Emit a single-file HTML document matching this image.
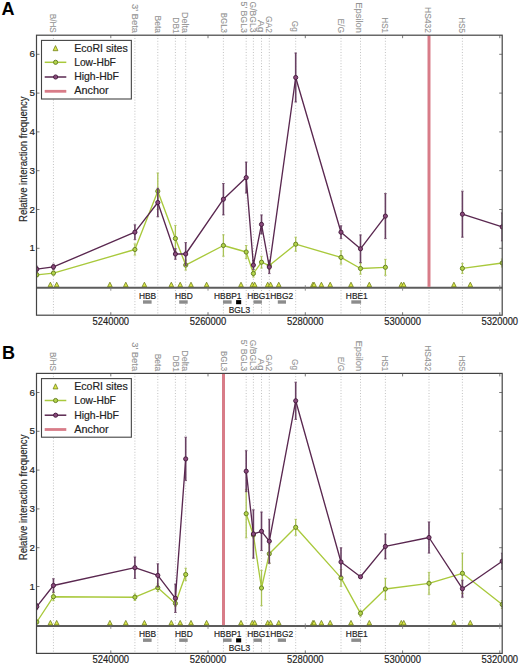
<!DOCTYPE html><html><head><meta charset="utf-8"><style>html,body{margin:0;padding:0;background:#fff;}svg{display:block;font-family:"Liberation Sans", sans-serif;}text{stroke-width:0.18px;}text.lb{stroke-width:0.08px;}</style></head><body>
<svg width="520" height="664" viewBox="0 0 520 664">
<rect width="520" height="664" fill="#fff"/>
<clipPath id="c0"><rect x="36.5" y="35.2" width="465.7" height="280"/></clipPath>
<line x1="53.45" y1="35.2" x2="53.45" y2="315.2" stroke="#bbbbbb" stroke-width="0.9" stroke-dasharray="1 1.8"/>
<line x1="134.9" y1="35.2" x2="134.9" y2="315.2" stroke="#bbbbbb" stroke-width="0.9" stroke-dasharray="1 1.8"/>
<line x1="157.8" y1="35.2" x2="157.8" y2="315.2" stroke="#bbbbbb" stroke-width="0.9" stroke-dasharray="1 1.8"/>
<line x1="175.4" y1="35.2" x2="175.4" y2="315.2" stroke="#bbbbbb" stroke-width="0.9" stroke-dasharray="1 1.8"/>
<line x1="185.7" y1="35.2" x2="185.7" y2="315.2" stroke="#bbbbbb" stroke-width="0.9" stroke-dasharray="1 1.8"/>
<line x1="223.4" y1="35.2" x2="223.4" y2="315.2" stroke="#bbbbbb" stroke-width="0.9" stroke-dasharray="1 1.8"/>
<line x1="246.2" y1="35.2" x2="246.2" y2="315.2" stroke="#bbbbbb" stroke-width="0.9" stroke-dasharray="1 1.8"/>
<line x1="253.4" y1="35.2" x2="253.4" y2="315.2" stroke="#bbbbbb" stroke-width="0.9" stroke-dasharray="1 1.8"/>
<line x1="261.5" y1="35.2" x2="261.5" y2="315.2" stroke="#bbbbbb" stroke-width="0.9" stroke-dasharray="1 1.8"/>
<line x1="269.3" y1="35.2" x2="269.3" y2="315.2" stroke="#bbbbbb" stroke-width="0.9" stroke-dasharray="1 1.8"/>
<line x1="295.7" y1="35.2" x2="295.7" y2="315.2" stroke="#bbbbbb" stroke-width="0.9" stroke-dasharray="1 1.8"/>
<line x1="341" y1="35.2" x2="341" y2="315.2" stroke="#bbbbbb" stroke-width="0.9" stroke-dasharray="1 1.8"/>
<line x1="360.5" y1="35.2" x2="360.5" y2="315.2" stroke="#bbbbbb" stroke-width="0.9" stroke-dasharray="1 1.8"/>
<line x1="385.4" y1="35.2" x2="385.4" y2="315.2" stroke="#bbbbbb" stroke-width="0.9" stroke-dasharray="1 1.8"/>
<line x1="429" y1="35.2" x2="429" y2="315.2" stroke="#bbbbbb" stroke-width="0.9" stroke-dasharray="1 1.8"/>
<line x1="462.4" y1="35.2" x2="462.4" y2="315.2" stroke="#bbbbbb" stroke-width="0.9" stroke-dasharray="1 1.8"/>
<text transform="translate(50.1 13.7) rotate(90)" text-anchor="start" class="lb" font-size="8.3" fill="#929292" stroke="#929292" textLength="19" lengthAdjust="spacingAndGlyphs">B/HS</text>
<text transform="translate(131.5 4) rotate(90)" text-anchor="start" class="lb" font-size="8.3" fill="#929292" stroke="#929292" textLength="29" lengthAdjust="spacingAndGlyphs">3&#8217; Beta</text>
<text transform="translate(154.8 15.5) rotate(90)" text-anchor="start" class="lb" font-size="8.3" fill="#929292" stroke="#929292" textLength="17.5" lengthAdjust="spacingAndGlyphs">Beta</text>
<text transform="translate(172.8 17.3) rotate(90)" text-anchor="start" class="lb" font-size="8.3" fill="#929292" stroke="#929292" textLength="16.4" lengthAdjust="spacingAndGlyphs">DB1</text>
<text transform="translate(182.3 12) rotate(90)" text-anchor="start" class="lb" font-size="8.3" fill="#929292" stroke="#929292" textLength="21" lengthAdjust="spacingAndGlyphs">Delta</text>
<text transform="translate(220.6 12.8) rotate(90)" text-anchor="start" class="lb" font-size="8.3" fill="#929292" stroke="#929292" textLength="20.2" lengthAdjust="spacingAndGlyphs">BGL3</text>
<text transform="translate(240.7 1.5) rotate(90)" text-anchor="start" class="lb" font-size="8.3" fill="#929292" stroke="#929292" textLength="31.5" lengthAdjust="spacingAndGlyphs">5&#8217; BGL3</text>
<text transform="translate(250 1.6) rotate(90)" text-anchor="start" class="lb" font-size="8.3" fill="#929292" stroke="#929292" textLength="30.8" lengthAdjust="spacingAndGlyphs">G/BGL3</text>
<text transform="translate(257.6 20) rotate(90)" text-anchor="start" class="lb" font-size="8.3" fill="#929292" stroke="#929292" textLength="12.4" lengthAdjust="spacingAndGlyphs">Ag</text>
<text transform="translate(266 16) rotate(90)" text-anchor="start" class="lb" font-size="8.3" fill="#929292" stroke="#929292" textLength="17" lengthAdjust="spacingAndGlyphs">GA2</text>
<text transform="translate(291.6 20.8) rotate(90)" text-anchor="start" class="lb" font-size="8.3" fill="#929292" stroke="#929292" textLength="11" lengthAdjust="spacingAndGlyphs">Gg</text>
<text transform="translate(337.5 18.5) rotate(90)" text-anchor="start" class="lb" font-size="8.3" fill="#929292" stroke="#929292" textLength="14.5" lengthAdjust="spacingAndGlyphs">E/G</text>
<text transform="translate(355.7 2.3) rotate(90)" text-anchor="start" class="lb" font-size="8.3" fill="#929292" stroke="#929292" textLength="30.7" lengthAdjust="spacingAndGlyphs">Epsilon</text>
<text transform="translate(382.1 17.3) rotate(90)" text-anchor="start" class="lb" font-size="8.3" fill="#929292" stroke="#929292" textLength="15.7" lengthAdjust="spacingAndGlyphs">HS1</text>
<text transform="translate(425.4 7) rotate(90)" text-anchor="start" class="lb" font-size="8.3" fill="#929292" stroke="#929292" textLength="26" lengthAdjust="spacingAndGlyphs">HS432</text>
<text transform="translate(458.9 17.3) rotate(90)" text-anchor="start" class="lb" font-size="8.3" fill="#929292" stroke="#929292" textLength="15.7" lengthAdjust="spacingAndGlyphs">HS5</text>
<line x1="36.5" y1="287.7" x2="502.2" y2="287.7" stroke="#5c5c5c" stroke-width="2"/>
<line x1="110.8" y1="285.2" x2="110.8" y2="290.7" stroke="#777" stroke-width="0.8"/>
<line x1="208" y1="285.2" x2="208" y2="290.7" stroke="#777" stroke-width="0.8"/>
<line x1="305.3" y1="285.2" x2="305.3" y2="290.7" stroke="#777" stroke-width="0.8"/>
<line x1="402.6" y1="285.2" x2="402.6" y2="290.7" stroke="#777" stroke-width="0.8"/>
<line x1="499.8" y1="285.2" x2="499.8" y2="290.7" stroke="#777" stroke-width="0.8"/>
<line x1="429" y1="35.2" x2="429" y2="286.9" stroke="#d87c88" stroke-width="3"/>
<path d="M48.1 286.7L52.7 286.7L50.4 282.2Z" fill="#dde84a" stroke="#6f7f1c" stroke-width="0.8"/>
<path d="M54.4 286.7L59 286.7L56.7 282.2Z" fill="#dde84a" stroke="#6f7f1c" stroke-width="0.8"/>
<path d="M107.6 286.7L112.2 286.7L109.9 282.2Z" fill="#dde84a" stroke="#6f7f1c" stroke-width="0.8"/>
<path d="M123.5 286.7L128.1 286.7L125.8 282.2Z" fill="#dde84a" stroke="#6f7f1c" stroke-width="0.8"/>
<path d="M142.1 286.7L146.7 286.7L144.4 282.2Z" fill="#dde84a" stroke="#6f7f1c" stroke-width="0.8"/>
<path d="M169 286.7L173.6 286.7L171.3 282.2Z" fill="#dde84a" stroke="#6f7f1c" stroke-width="0.8"/>
<path d="M177.9 286.7L182.5 286.7L180.2 282.2Z" fill="#dde84a" stroke="#6f7f1c" stroke-width="0.8"/>
<path d="M188.7 286.7L193.3 286.7L191 282.2Z" fill="#dde84a" stroke="#6f7f1c" stroke-width="0.8"/>
<path d="M204.3 286.7L208.9 286.7L206.6 282.2Z" fill="#dde84a" stroke="#6f7f1c" stroke-width="0.8"/>
<path d="M238.7 286.7L243.3 286.7L241 282.2Z" fill="#dde84a" stroke="#6f7f1c" stroke-width="0.8"/>
<path d="M250 286.7L254.6 286.7L252.3 282.2Z" fill="#dde84a" stroke="#6f7f1c" stroke-width="0.8"/>
<path d="M252.4 286.7L257 286.7L254.7 282.2Z" fill="#dde84a" stroke="#6f7f1c" stroke-width="0.8"/>
<path d="M265.4 286.7L270 286.7L267.7 282.2Z" fill="#dde84a" stroke="#6f7f1c" stroke-width="0.8"/>
<path d="M268.3 286.7L272.9 286.7L270.6 282.2Z" fill="#dde84a" stroke="#6f7f1c" stroke-width="0.8"/>
<path d="M276.45 286.7L281.05 286.7L278.75 282.2Z" fill="#dde84a" stroke="#6f7f1c" stroke-width="0.8"/>
<path d="M310.6 286.7L315.2 286.7L312.9 282.2Z" fill="#dde84a" stroke="#6f7f1c" stroke-width="0.8"/>
<path d="M311.8 286.7L316.4 286.7L314.1 282.2Z" fill="#dde84a" stroke="#6f7f1c" stroke-width="0.8"/>
<path d="M319.1 286.7L323.7 286.7L321.4 282.2Z" fill="#dde84a" stroke="#6f7f1c" stroke-width="0.8"/>
<path d="M327.9 286.7L332.5 286.7L330.2 282.2Z" fill="#dde84a" stroke="#6f7f1c" stroke-width="0.8"/>
<path d="M348.7 286.7L353.3 286.7L351 282.2Z" fill="#dde84a" stroke="#6f7f1c" stroke-width="0.8"/>
<path d="M367 286.7L371.6 286.7L369.3 282.2Z" fill="#dde84a" stroke="#6f7f1c" stroke-width="0.8"/>
<path d="M399 286.7L403.6 286.7L401.3 282.2Z" fill="#dde84a" stroke="#6f7f1c" stroke-width="0.8"/>
<path d="M401.45 286.7L406.05 286.7L403.75 282.2Z" fill="#dde84a" stroke="#6f7f1c" stroke-width="0.8"/>
<path d="M451.6 286.7L456.2 286.7L453.9 282.2Z" fill="#dde84a" stroke="#6f7f1c" stroke-width="0.8"/>
<path d="M468 286.7L472.6 286.7L470.3 282.2Z" fill="#dde84a" stroke="#6f7f1c" stroke-width="0.8"/>
<g clip-path="url(#c0)">
<line x1="36.8" y1="272.8" x2="36.8" y2="276.8" stroke="#a9c255" stroke-width="1.3"/>
<line x1="35.5" y1="272.8" x2="38.1" y2="272.8" stroke="#a9c255" stroke-width="0.8"/>
<line x1="35.5" y1="276.8" x2="38.1" y2="276.8" stroke="#a9c255" stroke-width="0.8"/>
<line x1="53.45" y1="271.1" x2="53.45" y2="275.1" stroke="#a9c255" stroke-width="1.3"/>
<line x1="52.15" y1="271.1" x2="54.75" y2="271.1" stroke="#a9c255" stroke-width="0.8"/>
<line x1="52.15" y1="275.1" x2="54.75" y2="275.1" stroke="#a9c255" stroke-width="0.8"/>
<line x1="134.9" y1="243.9" x2="134.9" y2="255.1" stroke="#a9c255" stroke-width="1.3"/>
<line x1="133.6" y1="243.9" x2="136.2" y2="243.9" stroke="#a9c255" stroke-width="0.8"/>
<line x1="133.6" y1="255.1" x2="136.2" y2="255.1" stroke="#a9c255" stroke-width="0.8"/>
<line x1="157.8" y1="173" x2="157.8" y2="209.4" stroke="#a9c255" stroke-width="1.3"/>
<line x1="156.5" y1="173" x2="159.1" y2="173" stroke="#a9c255" stroke-width="0.8"/>
<line x1="156.5" y1="209.4" x2="159.1" y2="209.4" stroke="#a9c255" stroke-width="0.8"/>
<line x1="175.4" y1="225.4" x2="175.4" y2="251.6" stroke="#a9c255" stroke-width="1.3"/>
<line x1="174.1" y1="225.4" x2="176.7" y2="225.4" stroke="#a9c255" stroke-width="0.8"/>
<line x1="174.1" y1="251.6" x2="176.7" y2="251.6" stroke="#a9c255" stroke-width="0.8"/>
<line x1="185.7" y1="260.1" x2="185.7" y2="270.1" stroke="#a9c255" stroke-width="1.3"/>
<line x1="184.4" y1="260.1" x2="187" y2="260.1" stroke="#a9c255" stroke-width="0.8"/>
<line x1="184.4" y1="270.1" x2="187" y2="270.1" stroke="#a9c255" stroke-width="0.8"/>
<line x1="223.4" y1="234.8" x2="223.4" y2="256.2" stroke="#a9c255" stroke-width="1.3"/>
<line x1="222.1" y1="234.8" x2="224.7" y2="234.8" stroke="#a9c255" stroke-width="0.8"/>
<line x1="222.1" y1="256.2" x2="224.7" y2="256.2" stroke="#a9c255" stroke-width="0.8"/>
<line x1="246.2" y1="245.5" x2="246.2" y2="258.5" stroke="#a9c255" stroke-width="1.3"/>
<line x1="244.9" y1="245.5" x2="247.5" y2="245.5" stroke="#a9c255" stroke-width="0.8"/>
<line x1="244.9" y1="258.5" x2="247.5" y2="258.5" stroke="#a9c255" stroke-width="0.8"/>
<line x1="253.4" y1="269.9" x2="253.4" y2="277.1" stroke="#a9c255" stroke-width="1.3"/>
<line x1="252.1" y1="269.9" x2="254.7" y2="269.9" stroke="#a9c255" stroke-width="0.8"/>
<line x1="252.1" y1="277.1" x2="254.7" y2="277.1" stroke="#a9c255" stroke-width="0.8"/>
<line x1="261.5" y1="256.3" x2="261.5" y2="268.1" stroke="#a9c255" stroke-width="1.3"/>
<line x1="260.2" y1="256.3" x2="262.8" y2="256.3" stroke="#a9c255" stroke-width="0.8"/>
<line x1="260.2" y1="268.1" x2="262.8" y2="268.1" stroke="#a9c255" stroke-width="0.8"/>
<line x1="269.3" y1="261.6" x2="269.3" y2="269.6" stroke="#a9c255" stroke-width="1.3"/>
<line x1="268" y1="261.6" x2="270.6" y2="261.6" stroke="#a9c255" stroke-width="0.8"/>
<line x1="268" y1="269.6" x2="270.6" y2="269.6" stroke="#a9c255" stroke-width="0.8"/>
<line x1="295.7" y1="237.2" x2="295.7" y2="251.2" stroke="#a9c255" stroke-width="1.3"/>
<line x1="294.4" y1="237.2" x2="297" y2="237.2" stroke="#a9c255" stroke-width="0.8"/>
<line x1="294.4" y1="251.2" x2="297" y2="251.2" stroke="#a9c255" stroke-width="0.8"/>
<line x1="341" y1="250.7" x2="341" y2="264.1" stroke="#a9c255" stroke-width="1.3"/>
<line x1="339.7" y1="250.7" x2="342.3" y2="250.7" stroke="#a9c255" stroke-width="0.8"/>
<line x1="339.7" y1="264.1" x2="342.3" y2="264.1" stroke="#a9c255" stroke-width="0.8"/>
<line x1="360.5" y1="262.8" x2="360.5" y2="274.2" stroke="#a9c255" stroke-width="1.3"/>
<line x1="359.2" y1="262.8" x2="361.8" y2="262.8" stroke="#a9c255" stroke-width="0.8"/>
<line x1="359.2" y1="274.2" x2="361.8" y2="274.2" stroke="#a9c255" stroke-width="0.8"/>
<line x1="385.4" y1="259.3" x2="385.4" y2="275.3" stroke="#a9c255" stroke-width="1.3"/>
<line x1="384.1" y1="259.3" x2="386.7" y2="259.3" stroke="#a9c255" stroke-width="0.8"/>
<line x1="384.1" y1="275.3" x2="386.7" y2="275.3" stroke="#a9c255" stroke-width="0.8"/>
<line x1="462.4" y1="263.4" x2="462.4" y2="273.4" stroke="#a9c255" stroke-width="1.3"/>
<line x1="461.1" y1="263.4" x2="463.7" y2="263.4" stroke="#a9c255" stroke-width="0.8"/>
<line x1="461.1" y1="273.4" x2="463.7" y2="273.4" stroke="#a9c255" stroke-width="0.8"/>
<line x1="502.2" y1="259" x2="502.2" y2="267" stroke="#a9c255" stroke-width="1.3"/>
<line x1="500.9" y1="259" x2="503.5" y2="259" stroke="#a9c255" stroke-width="0.8"/>
<line x1="500.9" y1="267" x2="503.5" y2="267" stroke="#a9c255" stroke-width="0.8"/>
<polyline points="36.8,274.8 53.45,273.1 134.9,249.5 157.8,191.2 175.4,238.5 185.7,265.1 223.4,245.5 246.2,252 253.4,273.5 261.5,262.2 269.3,265.6 295.7,244.2 341,257.4 360.5,268.5 385.4,267.3" fill="none" stroke="#a9c93c" stroke-width="1.35" stroke-linejoin="round"/>
<polyline points="462.4,268.4 502.2,263" fill="none" stroke="#a9c93c" stroke-width="1.35" stroke-linejoin="round"/>
<circle cx="36.8" cy="274.8" r="2.1" fill="#b2d44a" stroke="#60781e" stroke-width="0.9"/>
<circle cx="53.45" cy="273.1" r="2.1" fill="#b2d44a" stroke="#60781e" stroke-width="0.9"/>
<circle cx="134.9" cy="249.5" r="2.1" fill="#b2d44a" stroke="#60781e" stroke-width="0.9"/>
<circle cx="157.8" cy="191.2" r="2.1" fill="#b2d44a" stroke="#60781e" stroke-width="0.9"/>
<circle cx="175.4" cy="238.5" r="2.1" fill="#b2d44a" stroke="#60781e" stroke-width="0.9"/>
<circle cx="185.7" cy="265.1" r="2.1" fill="#b2d44a" stroke="#60781e" stroke-width="0.9"/>
<circle cx="223.4" cy="245.5" r="2.1" fill="#b2d44a" stroke="#60781e" stroke-width="0.9"/>
<circle cx="246.2" cy="252" r="2.1" fill="#b2d44a" stroke="#60781e" stroke-width="0.9"/>
<circle cx="253.4" cy="273.5" r="2.1" fill="#b2d44a" stroke="#60781e" stroke-width="0.9"/>
<circle cx="261.5" cy="262.2" r="2.1" fill="#b2d44a" stroke="#60781e" stroke-width="0.9"/>
<circle cx="269.3" cy="265.6" r="2.1" fill="#b2d44a" stroke="#60781e" stroke-width="0.9"/>
<circle cx="295.7" cy="244.2" r="2.1" fill="#b2d44a" stroke="#60781e" stroke-width="0.9"/>
<circle cx="341" cy="257.4" r="2.1" fill="#b2d44a" stroke="#60781e" stroke-width="0.9"/>
<circle cx="360.5" cy="268.5" r="2.1" fill="#b2d44a" stroke="#60781e" stroke-width="0.9"/>
<circle cx="385.4" cy="267.3" r="2.1" fill="#b2d44a" stroke="#60781e" stroke-width="0.9"/>
<circle cx="462.4" cy="268.4" r="2.1" fill="#b2d44a" stroke="#60781e" stroke-width="0.9"/>
<circle cx="502.2" cy="263" r="2.1" fill="#b2d44a" stroke="#60781e" stroke-width="0.9"/>
</g>
<g clip-path="url(#c0)">
<line x1="36.8" y1="266.2" x2="36.8" y2="272.2" stroke="#684062" stroke-width="1.6"/>
<line x1="35.5" y1="266.2" x2="38.1" y2="266.2" stroke="#684062" stroke-width="0.8"/>
<line x1="35.5" y1="272.2" x2="38.1" y2="272.2" stroke="#684062" stroke-width="0.8"/>
<line x1="53.45" y1="264.2" x2="53.45" y2="269.6" stroke="#684062" stroke-width="1.6"/>
<line x1="52.15" y1="264.2" x2="54.75" y2="264.2" stroke="#684062" stroke-width="0.8"/>
<line x1="52.15" y1="269.6" x2="54.75" y2="269.6" stroke="#684062" stroke-width="0.8"/>
<line x1="134.9" y1="224.8" x2="134.9" y2="239.6" stroke="#684062" stroke-width="1.6"/>
<line x1="133.6" y1="224.8" x2="136.2" y2="224.8" stroke="#684062" stroke-width="0.8"/>
<line x1="133.6" y1="239.6" x2="136.2" y2="239.6" stroke="#684062" stroke-width="0.8"/>
<line x1="157.8" y1="188.3" x2="157.8" y2="216.7" stroke="#684062" stroke-width="1.6"/>
<line x1="156.5" y1="188.3" x2="159.1" y2="188.3" stroke="#684062" stroke-width="0.8"/>
<line x1="156.5" y1="216.7" x2="159.1" y2="216.7" stroke="#684062" stroke-width="0.8"/>
<line x1="175.4" y1="248.7" x2="175.4" y2="259.3" stroke="#684062" stroke-width="1.6"/>
<line x1="174.1" y1="248.7" x2="176.7" y2="248.7" stroke="#684062" stroke-width="0.8"/>
<line x1="174.1" y1="259.3" x2="176.7" y2="259.3" stroke="#684062" stroke-width="0.8"/>
<line x1="185.7" y1="242.6" x2="185.7" y2="265.4" stroke="#684062" stroke-width="1.6"/>
<line x1="184.4" y1="242.6" x2="187" y2="242.6" stroke="#684062" stroke-width="0.8"/>
<line x1="184.4" y1="265.4" x2="187" y2="265.4" stroke="#684062" stroke-width="0.8"/>
<line x1="223.4" y1="183.5" x2="223.4" y2="214.9" stroke="#684062" stroke-width="1.6"/>
<line x1="222.1" y1="183.5" x2="224.7" y2="183.5" stroke="#684062" stroke-width="0.8"/>
<line x1="222.1" y1="214.9" x2="224.7" y2="214.9" stroke="#684062" stroke-width="0.8"/>
<line x1="246.2" y1="162.1" x2="246.2" y2="193.1" stroke="#684062" stroke-width="1.6"/>
<line x1="244.9" y1="162.1" x2="247.5" y2="162.1" stroke="#684062" stroke-width="0.8"/>
<line x1="244.9" y1="193.1" x2="247.5" y2="193.1" stroke="#684062" stroke-width="0.8"/>
<line x1="253.4" y1="260.6" x2="253.4" y2="269.6" stroke="#684062" stroke-width="1.6"/>
<line x1="252.1" y1="260.6" x2="254.7" y2="260.6" stroke="#684062" stroke-width="0.8"/>
<line x1="252.1" y1="269.6" x2="254.7" y2="269.6" stroke="#684062" stroke-width="0.8"/>
<line x1="261.5" y1="214.9" x2="261.5" y2="233.9" stroke="#684062" stroke-width="1.6"/>
<line x1="260.2" y1="214.9" x2="262.8" y2="214.9" stroke="#684062" stroke-width="0.8"/>
<line x1="260.2" y1="233.9" x2="262.8" y2="233.9" stroke="#684062" stroke-width="0.8"/>
<line x1="269.3" y1="260.4" x2="269.3" y2="273.6" stroke="#684062" stroke-width="1.6"/>
<line x1="268" y1="260.4" x2="270.6" y2="260.4" stroke="#684062" stroke-width="0.8"/>
<line x1="268" y1="273.6" x2="270.6" y2="273.6" stroke="#684062" stroke-width="0.8"/>
<line x1="295.7" y1="53" x2="295.7" y2="102" stroke="#684062" stroke-width="1.6"/>
<line x1="294.4" y1="53" x2="297" y2="53" stroke="#684062" stroke-width="0.8"/>
<line x1="294.4" y1="102" x2="297" y2="102" stroke="#684062" stroke-width="0.8"/>
<line x1="341" y1="225.8" x2="341" y2="238.6" stroke="#684062" stroke-width="1.6"/>
<line x1="339.7" y1="225.8" x2="342.3" y2="225.8" stroke="#684062" stroke-width="0.8"/>
<line x1="339.7" y1="238.6" x2="342.3" y2="238.6" stroke="#684062" stroke-width="0.8"/>
<line x1="360.5" y1="234.9" x2="360.5" y2="262.7" stroke="#684062" stroke-width="1.6"/>
<line x1="359.2" y1="234.9" x2="361.8" y2="234.9" stroke="#684062" stroke-width="0.8"/>
<line x1="359.2" y1="262.7" x2="361.8" y2="262.7" stroke="#684062" stroke-width="0.8"/>
<line x1="385.4" y1="193.6" x2="385.4" y2="238.6" stroke="#684062" stroke-width="1.6"/>
<line x1="384.1" y1="193.6" x2="386.7" y2="193.6" stroke="#684062" stroke-width="0.8"/>
<line x1="384.1" y1="238.6" x2="386.7" y2="238.6" stroke="#684062" stroke-width="0.8"/>
<line x1="462.4" y1="191.2" x2="462.4" y2="237.2" stroke="#684062" stroke-width="1.6"/>
<line x1="461.1" y1="191.2" x2="463.7" y2="191.2" stroke="#684062" stroke-width="0.8"/>
<line x1="461.1" y1="237.2" x2="463.7" y2="237.2" stroke="#684062" stroke-width="0.8"/>
<line x1="502.2" y1="212.9" x2="502.2" y2="240.9" stroke="#684062" stroke-width="1.6"/>
<line x1="500.9" y1="212.9" x2="503.5" y2="212.9" stroke="#684062" stroke-width="0.8"/>
<line x1="500.9" y1="240.9" x2="503.5" y2="240.9" stroke="#684062" stroke-width="0.8"/>
<polyline points="36.8,269.2 53.45,266.9 134.9,232.2 157.8,202.5 175.4,254 185.7,254 223.4,199.2 246.2,177.6 253.4,265.1 261.5,224.4 269.3,267 295.7,77.5 341,232.2 360.5,248.8 385.4,216.1" fill="none" stroke="#5a2850" stroke-width="1.35" stroke-linejoin="round"/>
<polyline points="462.4,214.2 502.2,226.9" fill="none" stroke="#5a2850" stroke-width="1.35" stroke-linejoin="round"/>
<circle cx="36.8" cy="269.2" r="2.1" fill="#8a4a7c" stroke="#42193a" stroke-width="0.9"/>
<circle cx="53.45" cy="266.9" r="2.1" fill="#8a4a7c" stroke="#42193a" stroke-width="0.9"/>
<circle cx="134.9" cy="232.2" r="2.1" fill="#8a4a7c" stroke="#42193a" stroke-width="0.9"/>
<circle cx="157.8" cy="202.5" r="2.1" fill="#8a4a7c" stroke="#42193a" stroke-width="0.9"/>
<circle cx="175.4" cy="254" r="2.1" fill="#8a4a7c" stroke="#42193a" stroke-width="0.9"/>
<circle cx="185.7" cy="254" r="2.1" fill="#8a4a7c" stroke="#42193a" stroke-width="0.9"/>
<circle cx="223.4" cy="199.2" r="2.1" fill="#8a4a7c" stroke="#42193a" stroke-width="0.9"/>
<circle cx="246.2" cy="177.6" r="2.1" fill="#8a4a7c" stroke="#42193a" stroke-width="0.9"/>
<circle cx="253.4" cy="265.1" r="2.1" fill="#8a4a7c" stroke="#42193a" stroke-width="0.9"/>
<circle cx="261.5" cy="224.4" r="2.1" fill="#8a4a7c" stroke="#42193a" stroke-width="0.9"/>
<circle cx="269.3" cy="267" r="2.1" fill="#8a4a7c" stroke="#42193a" stroke-width="0.9"/>
<circle cx="295.7" cy="77.5" r="2.1" fill="#8a4a7c" stroke="#42193a" stroke-width="0.9"/>
<circle cx="341" cy="232.2" r="2.1" fill="#8a4a7c" stroke="#42193a" stroke-width="0.9"/>
<circle cx="360.5" cy="248.8" r="2.1" fill="#8a4a7c" stroke="#42193a" stroke-width="0.9"/>
<circle cx="385.4" cy="216.1" r="2.1" fill="#8a4a7c" stroke="#42193a" stroke-width="0.9"/>
<circle cx="462.4" cy="214.2" r="2.1" fill="#8a4a7c" stroke="#42193a" stroke-width="0.9"/>
<circle cx="502.2" cy="226.9" r="2.1" fill="#8a4a7c" stroke="#42193a" stroke-width="0.9"/>
</g>
<text x="147.6" y="298.6" text-anchor="middle" font-size="8.4" fill="#222" stroke="#222">HBB</text>
<rect x="143" y="300.3" width="8.6" height="3.4" fill="#8c8c8c"/>
<text x="183.9" y="298.6" text-anchor="middle" font-size="8.4" fill="#222" stroke="#222">HBD</text>
<rect x="179.2" y="300.3" width="8.5" height="3.4" fill="#8c8c8c"/>
<text x="227.8" y="298.6" text-anchor="middle" font-size="8.4" fill="#222" stroke="#222">HBBP1</text>
<rect x="223" y="300.3" width="8.6" height="3.4" fill="#8c8c8c"/>
<text x="258.6" y="298.6" text-anchor="middle" font-size="8.4" fill="#222" stroke="#222">HBG1</text>
<rect x="253.5" y="300.3" width="8.4" height="3.4" fill="#8c8c8c"/>
<text x="281.7" y="298.6" text-anchor="middle" font-size="8.4" fill="#222" stroke="#222">HBG2</text>
<rect x="277.8" y="300.3" width="8.2" height="3.4" fill="#8c8c8c"/>
<text x="356.8" y="298.6" text-anchor="middle" font-size="8.4" fill="#222" stroke="#222">HBE1</text>
<rect x="351.3" y="300.3" width="9.8" height="3.4" fill="#8c8c8c"/>
<rect x="236.1" y="300.1" width="5.1" height="4.1" fill="#000"/>
<text x="239.4" y="312.8" text-anchor="middle" font-size="8.4" fill="#222" stroke="#222">BGL3</text>
<rect x="36.5" y="35.2" width="465.7" height="280" fill="none" stroke="#444444" stroke-width="1.2"/>
<line x1="36.5" y1="248.3" x2="39.5" y2="248.3" stroke="#555" stroke-width="0.8"/>
<line x1="499.2" y1="248.3" x2="502.2" y2="248.3" stroke="#555" stroke-width="0.8"/>
<text x="35.0" y="251.4" text-anchor="end" font-size="9.8" fill="#222" stroke="#222">1</text>
<line x1="36.5" y1="209.5" x2="39.5" y2="209.5" stroke="#555" stroke-width="0.8"/>
<line x1="499.2" y1="209.5" x2="502.2" y2="209.5" stroke="#555" stroke-width="0.8"/>
<text x="35.0" y="212.6" text-anchor="end" font-size="9.8" fill="#222" stroke="#222">2</text>
<line x1="36.5" y1="170.7" x2="39.5" y2="170.7" stroke="#555" stroke-width="0.8"/>
<line x1="499.2" y1="170.7" x2="502.2" y2="170.7" stroke="#555" stroke-width="0.8"/>
<text x="35.0" y="173.8" text-anchor="end" font-size="9.8" fill="#222" stroke="#222">3</text>
<line x1="36.5" y1="131.9" x2="39.5" y2="131.9" stroke="#555" stroke-width="0.8"/>
<line x1="499.2" y1="131.9" x2="502.2" y2="131.9" stroke="#555" stroke-width="0.8"/>
<text x="35.0" y="135" text-anchor="end" font-size="9.8" fill="#222" stroke="#222">4</text>
<line x1="36.5" y1="93.1" x2="39.5" y2="93.1" stroke="#555" stroke-width="0.8"/>
<line x1="499.2" y1="93.1" x2="502.2" y2="93.1" stroke="#555" stroke-width="0.8"/>
<text x="35.0" y="96.2" text-anchor="end" font-size="9.8" fill="#222" stroke="#222">5</text>
<line x1="36.5" y1="54.3" x2="39.5" y2="54.3" stroke="#555" stroke-width="0.8"/>
<line x1="499.2" y1="54.3" x2="502.2" y2="54.3" stroke="#555" stroke-width="0.8"/>
<text x="35.0" y="57.4" text-anchor="end" font-size="9.8" fill="#222" stroke="#222">6</text>
<line x1="110.8" y1="315.2" x2="110.8" y2="312.2" stroke="#555" stroke-width="0.8"/>
<line x1="110.8" y1="35.2" x2="110.8" y2="38.2" stroke="#555" stroke-width="0.8"/>
<text x="110.8" y="324.9" text-anchor="middle" font-size="10.2" fill="#222" stroke="#222" textLength="36.6" lengthAdjust="spacingAndGlyphs">5240000</text>
<line x1="208" y1="315.2" x2="208" y2="312.2" stroke="#555" stroke-width="0.8"/>
<line x1="208" y1="35.2" x2="208" y2="38.2" stroke="#555" stroke-width="0.8"/>
<text x="208" y="324.9" text-anchor="middle" font-size="10.2" fill="#222" stroke="#222" textLength="36.6" lengthAdjust="spacingAndGlyphs">5260000</text>
<line x1="305.3" y1="315.2" x2="305.3" y2="312.2" stroke="#555" stroke-width="0.8"/>
<line x1="305.3" y1="35.2" x2="305.3" y2="38.2" stroke="#555" stroke-width="0.8"/>
<text x="305.3" y="324.9" text-anchor="middle" font-size="10.2" fill="#222" stroke="#222" textLength="36.6" lengthAdjust="spacingAndGlyphs">5280000</text>
<line x1="402.6" y1="315.2" x2="402.6" y2="312.2" stroke="#555" stroke-width="0.8"/>
<line x1="402.6" y1="35.2" x2="402.6" y2="38.2" stroke="#555" stroke-width="0.8"/>
<text x="402.6" y="324.9" text-anchor="middle" font-size="10.2" fill="#222" stroke="#222" textLength="36.6" lengthAdjust="spacingAndGlyphs">5300000</text>
<line x1="499.8" y1="315.2" x2="499.8" y2="312.2" stroke="#555" stroke-width="0.8"/>
<line x1="499.8" y1="35.2" x2="499.8" y2="38.2" stroke="#555" stroke-width="0.8"/>
<text x="499.8" y="324.9" text-anchor="middle" font-size="10.2" fill="#222" stroke="#222" textLength="36.6" lengthAdjust="spacingAndGlyphs">5320000</text>
<text transform="translate(26.6 159.2) rotate(-90)" text-anchor="middle" font-size="10.4" fill="#2a2a2a" stroke="#2a2a2a" textLength="125.6" lengthAdjust="spacingAndGlyphs">Relative interaction frequency</text>
<rect x="41.5" y="40.4" width="89.85" height="58.6" fill="#fff" stroke="#444444" stroke-width="1.1"/>
<path d="M53.1 50.7L57.9 50.7L55.5 45.6Z" fill="#dde84a" stroke="#6f7f1c" stroke-width="0.8"/>
<line x1="44.7" y1="62.3" x2="66.3" y2="62.3" stroke="#a9c93c" stroke-width="1.5"/>
<circle cx="55.6" cy="62.3" r="2.1" fill="#b2d44a" stroke="#60781e" stroke-width="0.9"/>
<line x1="44.7" y1="77" x2="66.3" y2="77" stroke="#5a2850" stroke-width="1.5"/>
<circle cx="55.6" cy="77" r="2.1" fill="#8a4a7c" stroke="#42193a" stroke-width="0.9"/>
<line x1="44.7" y1="91.3" x2="66.3" y2="91.3" stroke="#d87c88" stroke-width="2.8"/>
<text x="74.2" y="51.9" font-size="10.3" fill="#222" stroke="#222" textLength="53.6" lengthAdjust="spacingAndGlyphs">EcoRI sites</text>
<text x="74.2" y="65.6" font-size="10.3" fill="#222" stroke="#222" textLength="41.7" lengthAdjust="spacingAndGlyphs">Low-HbF</text>
<text x="74.2" y="80.4" font-size="10.3" fill="#222" stroke="#222" textLength="44.7" lengthAdjust="spacingAndGlyphs">High-HbF</text>
<text x="74.2" y="94.4" font-size="10.3" fill="#222" stroke="#222" textLength="34.5" lengthAdjust="spacingAndGlyphs">Anchor</text>
<clipPath id="c338"><rect x="36.5" y="373.4" width="465.7" height="280"/></clipPath>
<line x1="53.45" y1="373.4" x2="53.45" y2="653.4" stroke="#bbbbbb" stroke-width="0.9" stroke-dasharray="1 1.8"/>
<line x1="134.9" y1="373.4" x2="134.9" y2="653.4" stroke="#bbbbbb" stroke-width="0.9" stroke-dasharray="1 1.8"/>
<line x1="157.8" y1="373.4" x2="157.8" y2="653.4" stroke="#bbbbbb" stroke-width="0.9" stroke-dasharray="1 1.8"/>
<line x1="175.4" y1="373.4" x2="175.4" y2="653.4" stroke="#bbbbbb" stroke-width="0.9" stroke-dasharray="1 1.8"/>
<line x1="185.7" y1="373.4" x2="185.7" y2="653.4" stroke="#bbbbbb" stroke-width="0.9" stroke-dasharray="1 1.8"/>
<line x1="223.4" y1="373.4" x2="223.4" y2="653.4" stroke="#bbbbbb" stroke-width="0.9" stroke-dasharray="1 1.8"/>
<line x1="246.2" y1="373.4" x2="246.2" y2="653.4" stroke="#bbbbbb" stroke-width="0.9" stroke-dasharray="1 1.8"/>
<line x1="253.4" y1="373.4" x2="253.4" y2="653.4" stroke="#bbbbbb" stroke-width="0.9" stroke-dasharray="1 1.8"/>
<line x1="261.5" y1="373.4" x2="261.5" y2="653.4" stroke="#bbbbbb" stroke-width="0.9" stroke-dasharray="1 1.8"/>
<line x1="269.3" y1="373.4" x2="269.3" y2="653.4" stroke="#bbbbbb" stroke-width="0.9" stroke-dasharray="1 1.8"/>
<line x1="295.7" y1="373.4" x2="295.7" y2="653.4" stroke="#bbbbbb" stroke-width="0.9" stroke-dasharray="1 1.8"/>
<line x1="341" y1="373.4" x2="341" y2="653.4" stroke="#bbbbbb" stroke-width="0.9" stroke-dasharray="1 1.8"/>
<line x1="360.5" y1="373.4" x2="360.5" y2="653.4" stroke="#bbbbbb" stroke-width="0.9" stroke-dasharray="1 1.8"/>
<line x1="385.4" y1="373.4" x2="385.4" y2="653.4" stroke="#bbbbbb" stroke-width="0.9" stroke-dasharray="1 1.8"/>
<line x1="429" y1="373.4" x2="429" y2="653.4" stroke="#bbbbbb" stroke-width="0.9" stroke-dasharray="1 1.8"/>
<line x1="462.4" y1="373.4" x2="462.4" y2="653.4" stroke="#bbbbbb" stroke-width="0.9" stroke-dasharray="1 1.8"/>
<text transform="translate(50.1 351.9) rotate(90)" text-anchor="start" class="lb" font-size="8.3" fill="#929292" stroke="#929292" textLength="19" lengthAdjust="spacingAndGlyphs">B/HS</text>
<text transform="translate(131.5 342.2) rotate(90)" text-anchor="start" class="lb" font-size="8.3" fill="#929292" stroke="#929292" textLength="29" lengthAdjust="spacingAndGlyphs">3&#8217; Beta</text>
<text transform="translate(154.8 353.7) rotate(90)" text-anchor="start" class="lb" font-size="8.3" fill="#929292" stroke="#929292" textLength="17.5" lengthAdjust="spacingAndGlyphs">Beta</text>
<text transform="translate(172.8 355.5) rotate(90)" text-anchor="start" class="lb" font-size="8.3" fill="#929292" stroke="#929292" textLength="16.4" lengthAdjust="spacingAndGlyphs">DB1</text>
<text transform="translate(182.3 350.2) rotate(90)" text-anchor="start" class="lb" font-size="8.3" fill="#929292" stroke="#929292" textLength="21" lengthAdjust="spacingAndGlyphs">Delta</text>
<text transform="translate(220.6 351) rotate(90)" text-anchor="start" class="lb" font-size="8.3" fill="#929292" stroke="#929292" textLength="20.2" lengthAdjust="spacingAndGlyphs">BGL3</text>
<text transform="translate(240.7 339.7) rotate(90)" text-anchor="start" class="lb" font-size="8.3" fill="#929292" stroke="#929292" textLength="31.5" lengthAdjust="spacingAndGlyphs">5&#8217; BGL3</text>
<text transform="translate(250 339.8) rotate(90)" text-anchor="start" class="lb" font-size="8.3" fill="#929292" stroke="#929292" textLength="30.8" lengthAdjust="spacingAndGlyphs">G/BGL3</text>
<text transform="translate(257.6 358.2) rotate(90)" text-anchor="start" class="lb" font-size="8.3" fill="#929292" stroke="#929292" textLength="12.4" lengthAdjust="spacingAndGlyphs">Ag</text>
<text transform="translate(266 354.2) rotate(90)" text-anchor="start" class="lb" font-size="8.3" fill="#929292" stroke="#929292" textLength="17" lengthAdjust="spacingAndGlyphs">GA2</text>
<text transform="translate(291.6 359) rotate(90)" text-anchor="start" class="lb" font-size="8.3" fill="#929292" stroke="#929292" textLength="11" lengthAdjust="spacingAndGlyphs">Gg</text>
<text transform="translate(337.5 356.7) rotate(90)" text-anchor="start" class="lb" font-size="8.3" fill="#929292" stroke="#929292" textLength="14.5" lengthAdjust="spacingAndGlyphs">E/G</text>
<text transform="translate(355.7 340.5) rotate(90)" text-anchor="start" class="lb" font-size="8.3" fill="#929292" stroke="#929292" textLength="30.7" lengthAdjust="spacingAndGlyphs">Epsilon</text>
<text transform="translate(382.1 355.5) rotate(90)" text-anchor="start" class="lb" font-size="8.3" fill="#929292" stroke="#929292" textLength="15.7" lengthAdjust="spacingAndGlyphs">HS1</text>
<text transform="translate(425.4 345.2) rotate(90)" text-anchor="start" class="lb" font-size="8.3" fill="#929292" stroke="#929292" textLength="26" lengthAdjust="spacingAndGlyphs">HS432</text>
<text transform="translate(458.9 355.5) rotate(90)" text-anchor="start" class="lb" font-size="8.3" fill="#929292" stroke="#929292" textLength="15.7" lengthAdjust="spacingAndGlyphs">HS5</text>
<line x1="36.5" y1="625.9" x2="502.2" y2="625.9" stroke="#5c5c5c" stroke-width="2"/>
<line x1="110.8" y1="623.4" x2="110.8" y2="628.9" stroke="#777" stroke-width="0.8"/>
<line x1="208" y1="623.4" x2="208" y2="628.9" stroke="#777" stroke-width="0.8"/>
<line x1="305.3" y1="623.4" x2="305.3" y2="628.9" stroke="#777" stroke-width="0.8"/>
<line x1="402.6" y1="623.4" x2="402.6" y2="628.9" stroke="#777" stroke-width="0.8"/>
<line x1="499.8" y1="623.4" x2="499.8" y2="628.9" stroke="#777" stroke-width="0.8"/>
<line x1="223.5" y1="373.4" x2="223.5" y2="625.1" stroke="#d87c88" stroke-width="3"/>
<path d="M48.1 624.9L52.7 624.9L50.4 620.4Z" fill="#dde84a" stroke="#6f7f1c" stroke-width="0.8"/>
<path d="M54.4 624.9L59 624.9L56.7 620.4Z" fill="#dde84a" stroke="#6f7f1c" stroke-width="0.8"/>
<path d="M107.6 624.9L112.2 624.9L109.9 620.4Z" fill="#dde84a" stroke="#6f7f1c" stroke-width="0.8"/>
<path d="M123.5 624.9L128.1 624.9L125.8 620.4Z" fill="#dde84a" stroke="#6f7f1c" stroke-width="0.8"/>
<path d="M142.1 624.9L146.7 624.9L144.4 620.4Z" fill="#dde84a" stroke="#6f7f1c" stroke-width="0.8"/>
<path d="M169 624.9L173.6 624.9L171.3 620.4Z" fill="#dde84a" stroke="#6f7f1c" stroke-width="0.8"/>
<path d="M177.9 624.9L182.5 624.9L180.2 620.4Z" fill="#dde84a" stroke="#6f7f1c" stroke-width="0.8"/>
<path d="M188.7 624.9L193.3 624.9L191 620.4Z" fill="#dde84a" stroke="#6f7f1c" stroke-width="0.8"/>
<path d="M204.3 624.9L208.9 624.9L206.6 620.4Z" fill="#dde84a" stroke="#6f7f1c" stroke-width="0.8"/>
<path d="M238.7 624.9L243.3 624.9L241 620.4Z" fill="#dde84a" stroke="#6f7f1c" stroke-width="0.8"/>
<path d="M250 624.9L254.6 624.9L252.3 620.4Z" fill="#dde84a" stroke="#6f7f1c" stroke-width="0.8"/>
<path d="M252.4 624.9L257 624.9L254.7 620.4Z" fill="#dde84a" stroke="#6f7f1c" stroke-width="0.8"/>
<path d="M265.4 624.9L270 624.9L267.7 620.4Z" fill="#dde84a" stroke="#6f7f1c" stroke-width="0.8"/>
<path d="M268.3 624.9L272.9 624.9L270.6 620.4Z" fill="#dde84a" stroke="#6f7f1c" stroke-width="0.8"/>
<path d="M276.45 624.9L281.05 624.9L278.75 620.4Z" fill="#dde84a" stroke="#6f7f1c" stroke-width="0.8"/>
<path d="M310.6 624.9L315.2 624.9L312.9 620.4Z" fill="#dde84a" stroke="#6f7f1c" stroke-width="0.8"/>
<path d="M311.8 624.9L316.4 624.9L314.1 620.4Z" fill="#dde84a" stroke="#6f7f1c" stroke-width="0.8"/>
<path d="M319.1 624.9L323.7 624.9L321.4 620.4Z" fill="#dde84a" stroke="#6f7f1c" stroke-width="0.8"/>
<path d="M327.9 624.9L332.5 624.9L330.2 620.4Z" fill="#dde84a" stroke="#6f7f1c" stroke-width="0.8"/>
<path d="M348.7 624.9L353.3 624.9L351 620.4Z" fill="#dde84a" stroke="#6f7f1c" stroke-width="0.8"/>
<path d="M367 624.9L371.6 624.9L369.3 620.4Z" fill="#dde84a" stroke="#6f7f1c" stroke-width="0.8"/>
<path d="M399 624.9L403.6 624.9L401.3 620.4Z" fill="#dde84a" stroke="#6f7f1c" stroke-width="0.8"/>
<path d="M401.45 624.9L406.05 624.9L403.75 620.4Z" fill="#dde84a" stroke="#6f7f1c" stroke-width="0.8"/>
<path d="M451.6 624.9L456.2 624.9L453.9 620.4Z" fill="#dde84a" stroke="#6f7f1c" stroke-width="0.8"/>
<path d="M468 624.9L472.6 624.9L470.3 620.4Z" fill="#dde84a" stroke="#6f7f1c" stroke-width="0.8"/>
<g clip-path="url(#c338)">
<line x1="36.8" y1="620" x2="36.8" y2="624" stroke="#a9c255" stroke-width="1.3"/>
<line x1="35.5" y1="620" x2="38.1" y2="620" stroke="#a9c255" stroke-width="0.8"/>
<line x1="35.5" y1="624" x2="38.1" y2="624" stroke="#a9c255" stroke-width="0.8"/>
<line x1="53.45" y1="592.7" x2="53.45" y2="600.7" stroke="#a9c255" stroke-width="1.3"/>
<line x1="52.15" y1="592.7" x2="54.75" y2="592.7" stroke="#a9c255" stroke-width="0.8"/>
<line x1="52.15" y1="600.7" x2="54.75" y2="600.7" stroke="#a9c255" stroke-width="0.8"/>
<line x1="134.9" y1="593.9" x2="134.9" y2="600.5" stroke="#a9c255" stroke-width="1.3"/>
<line x1="133.6" y1="593.9" x2="136.2" y2="593.9" stroke="#a9c255" stroke-width="0.8"/>
<line x1="133.6" y1="600.5" x2="136.2" y2="600.5" stroke="#a9c255" stroke-width="0.8"/>
<line x1="157.8" y1="583.9" x2="157.8" y2="591.5" stroke="#a9c255" stroke-width="1.3"/>
<line x1="156.5" y1="583.9" x2="159.1" y2="583.9" stroke="#a9c255" stroke-width="0.8"/>
<line x1="156.5" y1="591.5" x2="159.1" y2="591.5" stroke="#a9c255" stroke-width="0.8"/>
<line x1="175.4" y1="600.4" x2="175.4" y2="606.4" stroke="#a9c255" stroke-width="1.3"/>
<line x1="174.1" y1="600.4" x2="176.7" y2="600.4" stroke="#a9c255" stroke-width="0.8"/>
<line x1="174.1" y1="606.4" x2="176.7" y2="606.4" stroke="#a9c255" stroke-width="0.8"/>
<line x1="185.7" y1="568.3" x2="185.7" y2="580.7" stroke="#a9c255" stroke-width="1.3"/>
<line x1="184.4" y1="568.3" x2="187" y2="568.3" stroke="#a9c255" stroke-width="0.8"/>
<line x1="184.4" y1="580.7" x2="187" y2="580.7" stroke="#a9c255" stroke-width="0.8"/>
<line x1="246.2" y1="489.6" x2="246.2" y2="537.8" stroke="#a9c255" stroke-width="1.3"/>
<line x1="244.9" y1="489.6" x2="247.5" y2="489.6" stroke="#a9c255" stroke-width="0.8"/>
<line x1="244.9" y1="537.8" x2="247.5" y2="537.8" stroke="#a9c255" stroke-width="0.8"/>
<line x1="253.4" y1="532" x2="253.4" y2="538" stroke="#a9c255" stroke-width="1.3"/>
<line x1="252.1" y1="532" x2="254.7" y2="532" stroke="#a9c255" stroke-width="0.8"/>
<line x1="252.1" y1="538" x2="254.7" y2="538" stroke="#a9c255" stroke-width="0.8"/>
<line x1="261.5" y1="570.3" x2="261.5" y2="605.7" stroke="#a9c255" stroke-width="1.3"/>
<line x1="260.2" y1="570.3" x2="262.8" y2="570.3" stroke="#a9c255" stroke-width="0.8"/>
<line x1="260.2" y1="605.7" x2="262.8" y2="605.7" stroke="#a9c255" stroke-width="0.8"/>
<line x1="269.3" y1="544.3" x2="269.3" y2="563.3" stroke="#a9c255" stroke-width="1.3"/>
<line x1="268" y1="544.3" x2="270.6" y2="544.3" stroke="#a9c255" stroke-width="0.8"/>
<line x1="268" y1="563.3" x2="270.6" y2="563.3" stroke="#a9c255" stroke-width="0.8"/>
<line x1="295.7" y1="519.3" x2="295.7" y2="535.3" stroke="#a9c255" stroke-width="1.3"/>
<line x1="294.4" y1="519.3" x2="297" y2="519.3" stroke="#a9c255" stroke-width="0.8"/>
<line x1="294.4" y1="535.3" x2="297" y2="535.3" stroke="#a9c255" stroke-width="0.8"/>
<line x1="341" y1="569.5" x2="341" y2="586.3" stroke="#a9c255" stroke-width="1.3"/>
<line x1="339.7" y1="569.5" x2="342.3" y2="569.5" stroke="#a9c255" stroke-width="0.8"/>
<line x1="339.7" y1="586.3" x2="342.3" y2="586.3" stroke="#a9c255" stroke-width="0.8"/>
<line x1="360.5" y1="610.3" x2="360.5" y2="616.3" stroke="#a9c255" stroke-width="1.3"/>
<line x1="359.2" y1="610.3" x2="361.8" y2="610.3" stroke="#a9c255" stroke-width="0.8"/>
<line x1="359.2" y1="616.3" x2="361.8" y2="616.3" stroke="#a9c255" stroke-width="0.8"/>
<line x1="385.4" y1="578.3" x2="385.4" y2="599.7" stroke="#a9c255" stroke-width="1.3"/>
<line x1="384.1" y1="578.3" x2="386.7" y2="578.3" stroke="#a9c255" stroke-width="0.8"/>
<line x1="384.1" y1="599.7" x2="386.7" y2="599.7" stroke="#a9c255" stroke-width="0.8"/>
<line x1="429" y1="572.3" x2="429" y2="594.3" stroke="#a9c255" stroke-width="1.3"/>
<line x1="427.7" y1="572.3" x2="430.3" y2="572.3" stroke="#a9c255" stroke-width="0.8"/>
<line x1="427.7" y1="594.3" x2="430.3" y2="594.3" stroke="#a9c255" stroke-width="0.8"/>
<line x1="462.4" y1="553.1" x2="462.4" y2="593.5" stroke="#a9c255" stroke-width="1.3"/>
<line x1="461.1" y1="553.1" x2="463.7" y2="553.1" stroke="#a9c255" stroke-width="0.8"/>
<line x1="461.1" y1="593.5" x2="463.7" y2="593.5" stroke="#a9c255" stroke-width="0.8"/>
<line x1="502.2" y1="600.5" x2="502.2" y2="608.5" stroke="#a9c255" stroke-width="1.3"/>
<line x1="500.9" y1="600.5" x2="503.5" y2="600.5" stroke="#a9c255" stroke-width="0.8"/>
<line x1="500.9" y1="608.5" x2="503.5" y2="608.5" stroke="#a9c255" stroke-width="0.8"/>
<polyline points="36.8,622 53.45,596.7 134.9,597.2 157.8,587.7 175.4,603.4 185.7,574.5" fill="none" stroke="#a9c93c" stroke-width="1.35" stroke-linejoin="round"/>
<polyline points="246.2,513.7 253.4,535 261.5,588 269.3,553.8 295.7,527.3 341,577.9 360.5,613.3 385.4,589 429,583.3 462.4,573.3 502.2,604.5" fill="none" stroke="#a9c93c" stroke-width="1.35" stroke-linejoin="round"/>
<circle cx="36.8" cy="622" r="2.1" fill="#b2d44a" stroke="#60781e" stroke-width="0.9"/>
<circle cx="53.45" cy="596.7" r="2.1" fill="#b2d44a" stroke="#60781e" stroke-width="0.9"/>
<circle cx="134.9" cy="597.2" r="2.1" fill="#b2d44a" stroke="#60781e" stroke-width="0.9"/>
<circle cx="157.8" cy="587.7" r="2.1" fill="#b2d44a" stroke="#60781e" stroke-width="0.9"/>
<circle cx="175.4" cy="603.4" r="2.1" fill="#b2d44a" stroke="#60781e" stroke-width="0.9"/>
<circle cx="185.7" cy="574.5" r="2.1" fill="#b2d44a" stroke="#60781e" stroke-width="0.9"/>
<circle cx="246.2" cy="513.7" r="2.1" fill="#b2d44a" stroke="#60781e" stroke-width="0.9"/>
<circle cx="253.4" cy="535" r="2.1" fill="#b2d44a" stroke="#60781e" stroke-width="0.9"/>
<circle cx="261.5" cy="588" r="2.1" fill="#b2d44a" stroke="#60781e" stroke-width="0.9"/>
<circle cx="269.3" cy="553.8" r="2.1" fill="#b2d44a" stroke="#60781e" stroke-width="0.9"/>
<circle cx="295.7" cy="527.3" r="2.1" fill="#b2d44a" stroke="#60781e" stroke-width="0.9"/>
<circle cx="341" cy="577.9" r="2.1" fill="#b2d44a" stroke="#60781e" stroke-width="0.9"/>
<circle cx="360.5" cy="613.3" r="2.1" fill="#b2d44a" stroke="#60781e" stroke-width="0.9"/>
<circle cx="385.4" cy="589" r="2.1" fill="#b2d44a" stroke="#60781e" stroke-width="0.9"/>
<circle cx="429" cy="583.3" r="2.1" fill="#b2d44a" stroke="#60781e" stroke-width="0.9"/>
<circle cx="462.4" cy="573.3" r="2.1" fill="#b2d44a" stroke="#60781e" stroke-width="0.9"/>
<circle cx="502.2" cy="604.5" r="2.1" fill="#b2d44a" stroke="#60781e" stroke-width="0.9"/>
</g>
<g clip-path="url(#c338)">
<line x1="36.8" y1="603.6" x2="36.8" y2="609.6" stroke="#684062" stroke-width="1.6"/>
<line x1="35.5" y1="603.6" x2="38.1" y2="603.6" stroke="#684062" stroke-width="0.8"/>
<line x1="35.5" y1="609.6" x2="38.1" y2="609.6" stroke="#684062" stroke-width="0.8"/>
<line x1="53.45" y1="578.7" x2="53.45" y2="592.3" stroke="#684062" stroke-width="1.6"/>
<line x1="52.15" y1="578.7" x2="54.75" y2="578.7" stroke="#684062" stroke-width="0.8"/>
<line x1="52.15" y1="592.3" x2="54.75" y2="592.3" stroke="#684062" stroke-width="0.8"/>
<line x1="134.9" y1="557" x2="134.9" y2="578.4" stroke="#684062" stroke-width="1.6"/>
<line x1="133.6" y1="557" x2="136.2" y2="557" stroke="#684062" stroke-width="0.8"/>
<line x1="133.6" y1="578.4" x2="136.2" y2="578.4" stroke="#684062" stroke-width="0.8"/>
<line x1="157.8" y1="563.8" x2="157.8" y2="587" stroke="#684062" stroke-width="1.6"/>
<line x1="156.5" y1="563.8" x2="159.1" y2="563.8" stroke="#684062" stroke-width="0.8"/>
<line x1="156.5" y1="587" x2="159.1" y2="587" stroke="#684062" stroke-width="0.8"/>
<line x1="175.4" y1="584.1" x2="175.4" y2="612.5" stroke="#684062" stroke-width="1.6"/>
<line x1="174.1" y1="584.1" x2="176.7" y2="584.1" stroke="#684062" stroke-width="0.8"/>
<line x1="174.1" y1="612.5" x2="176.7" y2="612.5" stroke="#684062" stroke-width="0.8"/>
<line x1="185.7" y1="437.2" x2="185.7" y2="480.6" stroke="#684062" stroke-width="1.6"/>
<line x1="184.4" y1="437.2" x2="187" y2="437.2" stroke="#684062" stroke-width="0.8"/>
<line x1="184.4" y1="480.6" x2="187" y2="480.6" stroke="#684062" stroke-width="0.8"/>
<line x1="246.2" y1="450.7" x2="246.2" y2="491.7" stroke="#684062" stroke-width="1.6"/>
<line x1="244.9" y1="450.7" x2="247.5" y2="450.7" stroke="#684062" stroke-width="0.8"/>
<line x1="244.9" y1="491.7" x2="247.5" y2="491.7" stroke="#684062" stroke-width="0.8"/>
<line x1="253.4" y1="509.8" x2="253.4" y2="558.2" stroke="#684062" stroke-width="1.6"/>
<line x1="252.1" y1="509.8" x2="254.7" y2="509.8" stroke="#684062" stroke-width="0.8"/>
<line x1="252.1" y1="558.2" x2="254.7" y2="558.2" stroke="#684062" stroke-width="0.8"/>
<line x1="261.5" y1="512" x2="261.5" y2="550.6" stroke="#684062" stroke-width="1.6"/>
<line x1="260.2" y1="512" x2="262.8" y2="512" stroke="#684062" stroke-width="0.8"/>
<line x1="260.2" y1="550.6" x2="262.8" y2="550.6" stroke="#684062" stroke-width="0.8"/>
<line x1="269.3" y1="519.2" x2="269.3" y2="563.2" stroke="#684062" stroke-width="1.6"/>
<line x1="268" y1="519.2" x2="270.6" y2="519.2" stroke="#684062" stroke-width="0.8"/>
<line x1="268" y1="563.2" x2="270.6" y2="563.2" stroke="#684062" stroke-width="0.8"/>
<line x1="295.7" y1="382.2" x2="295.7" y2="419.4" stroke="#684062" stroke-width="1.6"/>
<line x1="294.4" y1="382.2" x2="297" y2="382.2" stroke="#684062" stroke-width="0.8"/>
<line x1="294.4" y1="419.4" x2="297" y2="419.4" stroke="#684062" stroke-width="0.8"/>
<line x1="341" y1="547.8" x2="341" y2="576.2" stroke="#684062" stroke-width="1.6"/>
<line x1="339.7" y1="547.8" x2="342.3" y2="547.8" stroke="#684062" stroke-width="0.8"/>
<line x1="339.7" y1="576.2" x2="342.3" y2="576.2" stroke="#684062" stroke-width="0.8"/>
<line x1="360.5" y1="575.8" x2="360.5" y2="577.8" stroke="#684062" stroke-width="1.6"/>
<line x1="359.2" y1="575.8" x2="361.8" y2="575.8" stroke="#684062" stroke-width="0.8"/>
<line x1="359.2" y1="577.8" x2="361.8" y2="577.8" stroke="#684062" stroke-width="0.8"/>
<line x1="385.4" y1="533.9" x2="385.4" y2="558.9" stroke="#684062" stroke-width="1.6"/>
<line x1="384.1" y1="533.9" x2="386.7" y2="533.9" stroke="#684062" stroke-width="0.8"/>
<line x1="384.1" y1="558.9" x2="386.7" y2="558.9" stroke="#684062" stroke-width="0.8"/>
<line x1="429" y1="521.9" x2="429" y2="553.1" stroke="#684062" stroke-width="1.6"/>
<line x1="427.7" y1="521.9" x2="430.3" y2="521.9" stroke="#684062" stroke-width="0.8"/>
<line x1="427.7" y1="553.1" x2="430.3" y2="553.1" stroke="#684062" stroke-width="0.8"/>
<line x1="462.4" y1="580.2" x2="462.4" y2="597.2" stroke="#684062" stroke-width="1.6"/>
<line x1="461.1" y1="580.2" x2="463.7" y2="580.2" stroke="#684062" stroke-width="0.8"/>
<line x1="461.1" y1="597.2" x2="463.7" y2="597.2" stroke="#684062" stroke-width="0.8"/>
<line x1="502.2" y1="553.2" x2="502.2" y2="569.2" stroke="#684062" stroke-width="1.6"/>
<line x1="500.9" y1="553.2" x2="503.5" y2="553.2" stroke="#684062" stroke-width="0.8"/>
<line x1="500.9" y1="569.2" x2="503.5" y2="569.2" stroke="#684062" stroke-width="0.8"/>
<polyline points="36.8,606.6 53.45,585.5 134.9,567.7 157.8,575.4 175.4,598.3 185.7,458.9" fill="none" stroke="#5a2850" stroke-width="1.35" stroke-linejoin="round"/>
<polyline points="246.2,471.2 253.4,534 261.5,531.3 269.3,541.2 295.7,400.8 341,562 360.5,576.8 385.4,546.4 429,537.5 462.4,588.7 502.2,561.2" fill="none" stroke="#5a2850" stroke-width="1.35" stroke-linejoin="round"/>
<circle cx="36.8" cy="606.6" r="2.1" fill="#8a4a7c" stroke="#42193a" stroke-width="0.9"/>
<circle cx="53.45" cy="585.5" r="2.1" fill="#8a4a7c" stroke="#42193a" stroke-width="0.9"/>
<circle cx="134.9" cy="567.7" r="2.1" fill="#8a4a7c" stroke="#42193a" stroke-width="0.9"/>
<circle cx="157.8" cy="575.4" r="2.1" fill="#8a4a7c" stroke="#42193a" stroke-width="0.9"/>
<circle cx="175.4" cy="598.3" r="2.1" fill="#8a4a7c" stroke="#42193a" stroke-width="0.9"/>
<circle cx="185.7" cy="458.9" r="2.1" fill="#8a4a7c" stroke="#42193a" stroke-width="0.9"/>
<circle cx="246.2" cy="471.2" r="2.1" fill="#8a4a7c" stroke="#42193a" stroke-width="0.9"/>
<circle cx="253.4" cy="534" r="2.1" fill="#8a4a7c" stroke="#42193a" stroke-width="0.9"/>
<circle cx="261.5" cy="531.3" r="2.1" fill="#8a4a7c" stroke="#42193a" stroke-width="0.9"/>
<circle cx="269.3" cy="541.2" r="2.1" fill="#8a4a7c" stroke="#42193a" stroke-width="0.9"/>
<circle cx="295.7" cy="400.8" r="2.1" fill="#8a4a7c" stroke="#42193a" stroke-width="0.9"/>
<circle cx="341" cy="562" r="2.1" fill="#8a4a7c" stroke="#42193a" stroke-width="0.9"/>
<circle cx="360.5" cy="576.8" r="2.1" fill="#8a4a7c" stroke="#42193a" stroke-width="0.9"/>
<circle cx="385.4" cy="546.4" r="2.1" fill="#8a4a7c" stroke="#42193a" stroke-width="0.9"/>
<circle cx="429" cy="537.5" r="2.1" fill="#8a4a7c" stroke="#42193a" stroke-width="0.9"/>
<circle cx="462.4" cy="588.7" r="2.1" fill="#8a4a7c" stroke="#42193a" stroke-width="0.9"/>
<circle cx="502.2" cy="561.2" r="2.1" fill="#8a4a7c" stroke="#42193a" stroke-width="0.9"/>
</g>
<text x="147.6" y="636.8" text-anchor="middle" font-size="8.4" fill="#222" stroke="#222">HBB</text>
<rect x="143" y="638.5" width="8.6" height="3.4" fill="#8c8c8c"/>
<text x="183.9" y="636.8" text-anchor="middle" font-size="8.4" fill="#222" stroke="#222">HBD</text>
<rect x="179.2" y="638.5" width="8.5" height="3.4" fill="#8c8c8c"/>
<text x="227.8" y="636.8" text-anchor="middle" font-size="8.4" fill="#222" stroke="#222">HBBP1</text>
<rect x="223" y="638.5" width="8.6" height="3.4" fill="#8c8c8c"/>
<text x="258.6" y="636.8" text-anchor="middle" font-size="8.4" fill="#222" stroke="#222">HBG1</text>
<rect x="253.5" y="638.5" width="8.4" height="3.4" fill="#8c8c8c"/>
<text x="281.7" y="636.8" text-anchor="middle" font-size="8.4" fill="#222" stroke="#222">HBG2</text>
<rect x="277.8" y="638.5" width="8.2" height="3.4" fill="#8c8c8c"/>
<text x="356.8" y="636.8" text-anchor="middle" font-size="8.4" fill="#222" stroke="#222">HBE1</text>
<rect x="351.3" y="638.5" width="9.8" height="3.4" fill="#8c8c8c"/>
<rect x="236.1" y="638.3" width="5.1" height="4.1" fill="#000"/>
<text x="239.4" y="651" text-anchor="middle" font-size="8.4" fill="#222" stroke="#222">BGL3</text>
<rect x="36.5" y="373.4" width="465.7" height="280" fill="none" stroke="#444444" stroke-width="1.2"/>
<line x1="36.5" y1="586.5" x2="39.5" y2="586.5" stroke="#555" stroke-width="0.8"/>
<line x1="499.2" y1="586.5" x2="502.2" y2="586.5" stroke="#555" stroke-width="0.8"/>
<text x="35.0" y="589.6" text-anchor="end" font-size="9.8" fill="#222" stroke="#222">1</text>
<line x1="36.5" y1="547.7" x2="39.5" y2="547.7" stroke="#555" stroke-width="0.8"/>
<line x1="499.2" y1="547.7" x2="502.2" y2="547.7" stroke="#555" stroke-width="0.8"/>
<text x="35.0" y="550.8" text-anchor="end" font-size="9.8" fill="#222" stroke="#222">2</text>
<line x1="36.5" y1="508.9" x2="39.5" y2="508.9" stroke="#555" stroke-width="0.8"/>
<line x1="499.2" y1="508.9" x2="502.2" y2="508.9" stroke="#555" stroke-width="0.8"/>
<text x="35.0" y="512" text-anchor="end" font-size="9.8" fill="#222" stroke="#222">3</text>
<line x1="36.5" y1="470.1" x2="39.5" y2="470.1" stroke="#555" stroke-width="0.8"/>
<line x1="499.2" y1="470.1" x2="502.2" y2="470.1" stroke="#555" stroke-width="0.8"/>
<text x="35.0" y="473.2" text-anchor="end" font-size="9.8" fill="#222" stroke="#222">4</text>
<line x1="36.5" y1="431.3" x2="39.5" y2="431.3" stroke="#555" stroke-width="0.8"/>
<line x1="499.2" y1="431.3" x2="502.2" y2="431.3" stroke="#555" stroke-width="0.8"/>
<text x="35.0" y="434.4" text-anchor="end" font-size="9.8" fill="#222" stroke="#222">5</text>
<line x1="36.5" y1="392.5" x2="39.5" y2="392.5" stroke="#555" stroke-width="0.8"/>
<line x1="499.2" y1="392.5" x2="502.2" y2="392.5" stroke="#555" stroke-width="0.8"/>
<text x="35.0" y="395.6" text-anchor="end" font-size="9.8" fill="#222" stroke="#222">6</text>
<line x1="110.8" y1="653.4" x2="110.8" y2="650.4" stroke="#555" stroke-width="0.8"/>
<line x1="110.8" y1="373.4" x2="110.8" y2="376.4" stroke="#555" stroke-width="0.8"/>
<text x="110.8" y="663.1" text-anchor="middle" font-size="10.2" fill="#222" stroke="#222" textLength="36.6" lengthAdjust="spacingAndGlyphs">5240000</text>
<line x1="208" y1="653.4" x2="208" y2="650.4" stroke="#555" stroke-width="0.8"/>
<line x1="208" y1="373.4" x2="208" y2="376.4" stroke="#555" stroke-width="0.8"/>
<text x="208" y="663.1" text-anchor="middle" font-size="10.2" fill="#222" stroke="#222" textLength="36.6" lengthAdjust="spacingAndGlyphs">5260000</text>
<line x1="305.3" y1="653.4" x2="305.3" y2="650.4" stroke="#555" stroke-width="0.8"/>
<line x1="305.3" y1="373.4" x2="305.3" y2="376.4" stroke="#555" stroke-width="0.8"/>
<text x="305.3" y="663.1" text-anchor="middle" font-size="10.2" fill="#222" stroke="#222" textLength="36.6" lengthAdjust="spacingAndGlyphs">5280000</text>
<line x1="402.6" y1="653.4" x2="402.6" y2="650.4" stroke="#555" stroke-width="0.8"/>
<line x1="402.6" y1="373.4" x2="402.6" y2="376.4" stroke="#555" stroke-width="0.8"/>
<text x="402.6" y="663.1" text-anchor="middle" font-size="10.2" fill="#222" stroke="#222" textLength="36.6" lengthAdjust="spacingAndGlyphs">5300000</text>
<line x1="499.8" y1="653.4" x2="499.8" y2="650.4" stroke="#555" stroke-width="0.8"/>
<line x1="499.8" y1="373.4" x2="499.8" y2="376.4" stroke="#555" stroke-width="0.8"/>
<text x="499.8" y="663.1" text-anchor="middle" font-size="10.2" fill="#222" stroke="#222" textLength="36.6" lengthAdjust="spacingAndGlyphs">5320000</text>
<text transform="translate(26.6 497.4) rotate(-90)" text-anchor="middle" font-size="10.4" fill="#2a2a2a" stroke="#2a2a2a" textLength="125.6" lengthAdjust="spacingAndGlyphs">Relative interaction frequency</text>
<rect x="41.5" y="378.6" width="89.85" height="58.6" fill="#fff" stroke="#444444" stroke-width="1.1"/>
<path d="M53.1 388.9L57.9 388.9L55.5 383.8Z" fill="#dde84a" stroke="#6f7f1c" stroke-width="0.8"/>
<line x1="44.7" y1="400.5" x2="66.3" y2="400.5" stroke="#a9c93c" stroke-width="1.5"/>
<circle cx="55.6" cy="400.5" r="2.1" fill="#b2d44a" stroke="#60781e" stroke-width="0.9"/>
<line x1="44.7" y1="415.2" x2="66.3" y2="415.2" stroke="#5a2850" stroke-width="1.5"/>
<circle cx="55.6" cy="415.2" r="2.1" fill="#8a4a7c" stroke="#42193a" stroke-width="0.9"/>
<line x1="44.7" y1="429.5" x2="66.3" y2="429.5" stroke="#d87c88" stroke-width="2.8"/>
<text x="74.2" y="390.1" font-size="10.3" fill="#222" stroke="#222" textLength="53.6" lengthAdjust="spacingAndGlyphs">EcoRI sites</text>
<text x="74.2" y="403.8" font-size="10.3" fill="#222" stroke="#222" textLength="41.7" lengthAdjust="spacingAndGlyphs">Low-HbF</text>
<text x="74.2" y="418.6" font-size="10.3" fill="#222" stroke="#222" textLength="44.7" lengthAdjust="spacingAndGlyphs">High-HbF</text>
<text x="74.2" y="432.6" font-size="10.3" fill="#222" stroke="#222" textLength="34.5" lengthAdjust="spacingAndGlyphs">Anchor</text>
<text x="1.5" y="14.8" font-size="18" font-weight="bold" fill="#000">A</text>
<text x="2.0" y="358.5" font-size="18" font-weight="bold" fill="#000">B</text>
</svg></body></html>
